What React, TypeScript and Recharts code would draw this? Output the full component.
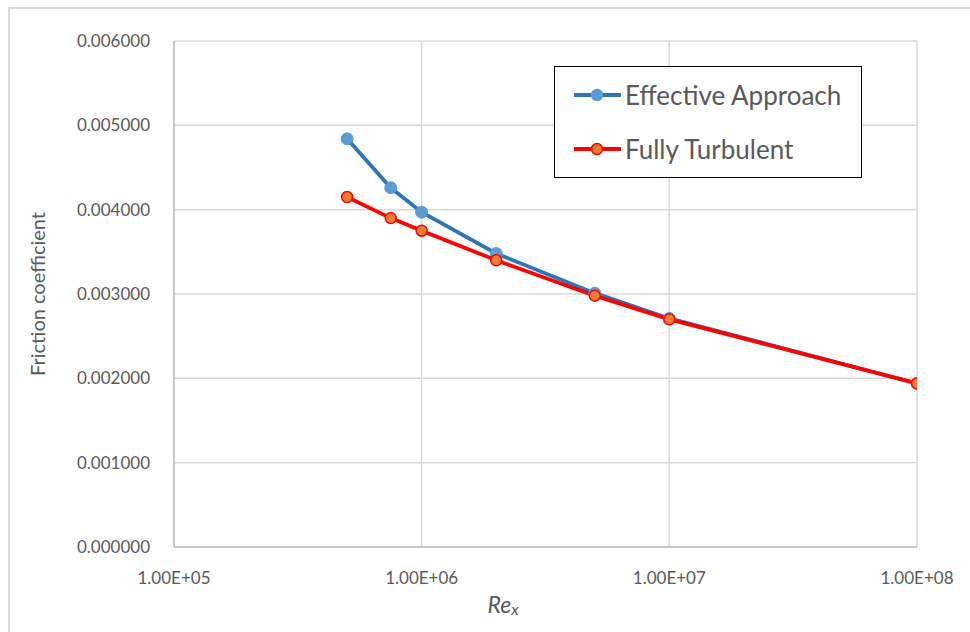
import React from "react";
import { CartesianGrid, Line, LineChart, XAxis, YAxis } from "recharts";

// Reynolds number (x) and friction coefficients for both approaches
const reynolds = [5e5, 7.5e5, 1e6, 2e6, 5e6, 1e7, 1e8];
const effectiveApproach = [0.00484, 0.00426, 0.00397, 0.00348, 0.00301, 0.00271, 0.00194];
const fullyTurbulent = [0.00415, 0.0039, 0.00375, 0.0034, 0.00298, 0.0027, 0.00194];

const xTicks = [1e5, 1e6, 1e7, 1e8];
const yTicks = [0, 0.001, 0.002, 0.003, 0.004, 0.005, 0.006];

const data = reynolds.map((re, i) => ({
  re,
  effective: effectiveApproach[i],
  turbulent: fullyTurbulent[i],
}));

const FONT = "Lato, 'Open Sans', sans-serif";
const TEXT = "#595959";
const BLUE = "#2E75B6";
const BLUE_DOT = "#5B9BD5";
const RED = "#FF0000";
const ORANGE = "#ED7D31";

const legendItems = [
  { name: "Effective Approach", line: BLUE, fill: BLUE_DOT, stroke: BLUE_DOT },
  { name: "Fully Turbulent", line: RED, fill: ORANGE, stroke: RED },
];

function LegendBox() {
  return (
    <div
      style={{
        position: "absolute",
        left: 554,
        top: 66,
        width: 308,
        height: 112,
        border: "1.5px solid #000",
        background: "#fff",
        boxSizing: "border-box",
        fontFamily: FONT,
        paddingLeft: 18,
        paddingTop: 1,
      }}
    >
      {legendItems.map((it) => (
        <div key={it.name} style={{ display: "flex", alignItems: "center", height: 54 }}>
          <svg width={50} height={14}>
            <line x1={1} y1={7} x2={48} y2={7} stroke={it.line} strokeWidth={3.8} />
            <circle cx={24} cy={7} r={5.5} fill={it.fill} stroke={it.stroke} strokeWidth={1.5} />
          </svg>
          <span style={{ fontSize: 26, color: TEXT, marginLeft: 2 }}>{it.name}</span>
        </div>
      ))}
    </div>
  );
}

export default function App() {
  return (
    <div style={{ position: "absolute", left: 0, top: 0, width: 970, height: 632, background: "#fff", overflow: "hidden" }}>
      <div
        style={{
          position: "absolute",
          left: 8,
          top: 7,
          width: 1000,
          height: 700,
          border: "2px solid #d9d9d9",
        }}
      />
      <div style={{ position: "absolute", left: 0, top: 0 }}>
        <LineChart width={970} height={632} data={data} margin={{ top: 41, right: 53, left: 54, bottom: 35 }}>
          <CartesianGrid stroke="#d9d9d9" strokeWidth={1.5} verticalValues={xTicks} horizontalValues={yTicks} />
          <XAxis
            dataKey="re"
            type="number"
            scale="log"
            domain={[1e5, 1e8]}
            ticks={xTicks}
            allowDataOverflow
            tickFormatter={(v: number) => v.toExponential(2).toUpperCase().replace(/E\+(\d)$/, "E+0$1")}
            tick={{ fill: TEXT, fontSize: 17, fontFamily: FONT }}
            tickLine={false}
            axisLine={{ stroke: "#bfbfbf", strokeWidth: 1.5 }}
            tickMargin={19}
            height={50}
            label={{
              content: ({ viewBox }: any) => (
                <text x={viewBox.x + viewBox.width / 2 - 58} y={viewBox.y + 66} fill={TEXT} fontFamily={FONT} fontStyle="italic" fontSize={23}>
                  Re<tspan fontSize={16} dy={2}>x</tspan>
                </text>
              ),
            }}
          />
          <YAxis
            type="number"
            domain={[0, 0.006]}
            ticks={yTicks}
            tickFormatter={(v: number) => v.toFixed(6)}
            tick={{ fill: TEXT, fontSize: 17, fontFamily: FONT }}
            tickLine={false}
            axisLine={{ stroke: "#bfbfbf", strokeWidth: 1.5 }}
            tickMargin={18}
            width={120}
            label={{
              value: "Friction coefficient",
              angle: -90,
              position: "insideLeft",
              offset: 0,
              dx: -16,
              style: { fill: TEXT, fontSize: 20, fontFamily: FONT, textAnchor: "middle" },
            }}
          />
          <Line
            type="linear"
            dataKey="effective"
            name="Effective Approach"
            stroke={BLUE}
            strokeWidth={3.8}
            dot={{ r: 6, fill: BLUE_DOT, stroke: BLUE_DOT, strokeWidth: 1 }}
            isAnimationActive={false}
          />
          <Line
            type="linear"
            dataKey="turbulent"
            name="Fully Turbulent"
            stroke={RED}
            strokeWidth={3.8}
            dot={{ r: 5.5, fill: ORANGE, stroke: RED, strokeWidth: 1.5 }}
            isAnimationActive={false}
          />
        </LineChart>
      </div>
      <LegendBox />
    </div>
  );
}
